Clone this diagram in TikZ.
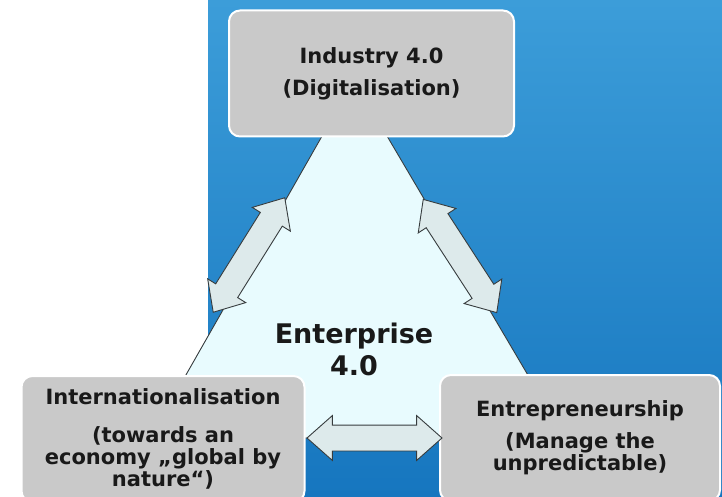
\documentclass[tikz,border=0pt]{standalone}
\usepackage{fontspec}
\setmainfont{DejaVu Sans}
\usetikzlibrary{shapes.arrows}

\definecolor{skytop}{RGB}{60,157,217}
\definecolor{skybottom}{RGB}{22,118,191}
\definecolor{cardgray}{RGB}{201,201,201}
\definecolor{icecyan}{RGB}{232,251,254}
\definecolor{arrowfill}{RGB}{221,234,235}
\definecolor{edgegray}{RGB}{55,60,62}

\begin{document}
\begin{tikzpicture}[x=1pt, y=1pt,
		card/.style={draw=white, line width=2pt, fill=cardgray, rounded corners=11pt, minimum width=283pt, minimum height=126pt, align=center, text=black!90, font=\bfseries\fontsize{21}{22}\selectfont},
		link/.style={double arrow, draw=edgegray, line width=0.9pt, fill=arrowfill, inner xsep=0pt, inner ysep=12.5pt, minimum height=135pt, minimum width=44pt, double arrow head extend=9.5pt, double arrow tip angle=83},
		core/.style={align=center, text=black!90, font=\bfseries\fontsize{27}{32}\selectfont},
	]

	\useasboundingbox (0,0) rectangle (722,-497);
	\clip (0,0) rectangle (722,-497);
	\shade[top color=skytop, bottom color=skybottom] (208,0) rectangle (722,-497);

	\coordinate (apex) at (354,-80);
	\coordinate (base-left) at (150,-438);
	\coordinate (base-right) at (565,-438);
	\draw[draw=edgegray, line width=0.9pt, fill=icecyan] (apex) -- (base-left) -- (base-right) -- cycle;

	\node[core] (enterprise) at (354,-349) {Enterprise\\4.0};

	\node[card, minimum width=285pt] (industry) at (371.5,-73.5) {Industry 4.0\\[10pt](Digitalisation)};
	\node[card] (intl) at (163,-439) {Internationalisation\\[16pt](towards an\\economy „global by\\nature“)};
	\node[card, minimum width=280pt] (entre) at (580,-438) {Entrepreneurship\\[10pt](Manage the\\unpredictable)};

	\node[link, rotate=58] (link-left) at (249,-255) {};
	\node[link, rotate=-57] (link-right) at (460,-256) {};
	\node[link] (link-bottom) at (374.5,-438) {};

\end{tikzpicture}
\end{document}
